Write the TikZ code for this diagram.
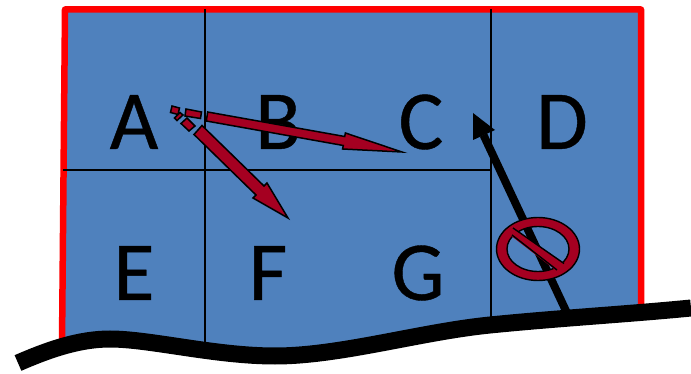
\documentclass[tikz,border=0pt]{standalone}
\usepackage{fontspec}
\setmainfont{Carlito}
\newfontfamily\cellfont{Carlito}[FakeBold=0.5]
\tikzset{
  cell/.style={font=\cellfont\fontsize{84}{84}\selectfont, text=black, inner sep=0pt, anchor=center},
  gridline/.style={draw=black, line width=2.2pt},
  fatred/.style={draw=black, fill=cred, line width=1.5pt, line join=miter},
  ground/.style={draw=black, line width=17pt},
}
\definecolor{cblue}{HTML}{4F81BD}
\definecolor{cred}{HTML}{A50021}
\begin{document}
\begin{tikzpicture}[x=1pt,y=-1pt]
\useasboundingbox (0,0) rectangle (691,374);
% region
\fill[cblue] (64,9) -- (641,9) -- (641,320) -- (500,330) -- (270,360) -- (100,345) -- (62,345) -- cycle;
\draw[red, line width=6.5pt, line join=round] (62,345) -- (65,9.5) -- (641,9.5) -- (641,312);
% grid
\coordinate (t1) at (205,9); \coordinate (b1) at (205,346);
\coordinate (t2) at (491,9); \coordinate (b2) at (491,322);
\coordinate (l1) at (63,170); \coordinate (r1) at (491,170);
\draw[gridline] (t1) -- (b1);
\draw[gridline] (t2) -- (b2);
\draw[gridline] (l1) -- (r1);
% ground
\draw[ground] (18,363) .. controls (50,349) and (80,339) .. (110,339) .. controls (150,339) and (215,356) .. (275,356) .. controls (340,356) and (420,332) .. (490,325) .. controls (560,318) and (630,314) .. (691,308);
% labels
\node[cell] (A) at (134,122) {A};
\node[cell] (B) at (278,122) {B};
\node[cell] (C) at (421,122) {C};
\node[cell] (D) at (562,122) {D};
\node[cell] (E) at (134,273) {E};
\node[cell] (F) at (268,273) {F};
\node[cell] (G) at (418,273) {G};
% black arrow
\coordinate (bs) at (567,313); \coordinate (bh) at (483.5,135); \coordinate (bt) at (473,113);
\draw[black, line width=8pt] (bs) -- (bh);
\fill[black] (bt) -- (473,140) -- (495,130) -- cycle;
% no sign
\coordinate (ns) at (538,249);
\draw[fill=cred, even odd rule, line width=1.4pt] (ns) ellipse [x radius=41.5, y radius=31.5] (ns) ellipse [x radius=31, y radius=22.5];
\fill[cred] (511,226.5) -- (566,264.5) -- (558,272) -- (510,235) -- cycle;
\draw[black, line width=1.4pt] (513,228) -- (564,263.5) (512,235) -- (557,270);
% red arrows
\draw[fatred] (207.7,112) -- (344.7,136.5) -- (345.4,133) -- (402,152) -- (342.6,149) -- (343.3,145.5) -- (206.3,121) -- cycle;
\draw[fatred] (202,125.5) -- (264,186) -- (267,183) -- (288,218) -- (253,198) -- (256,195) -- (194,134.5) -- cycle;
% dashes
\draw[fatred] (172,106) -- (179.5,108) -- (178,114.5) -- (170.5,112.5) -- cycle;
\draw[fatred] (186,109) -- (201.5,112) -- (200.5,118.5) -- (185,116) -- cycle;
\draw[fatred] (180,112.5) -- (183,115) -- (177,120.5) -- (174.5,118) -- cycle;
\draw[fatred] (187,118) -- (195,126) -- (189,131) -- (181,123.5) -- cycle;
\end{tikzpicture}
\end{document}
